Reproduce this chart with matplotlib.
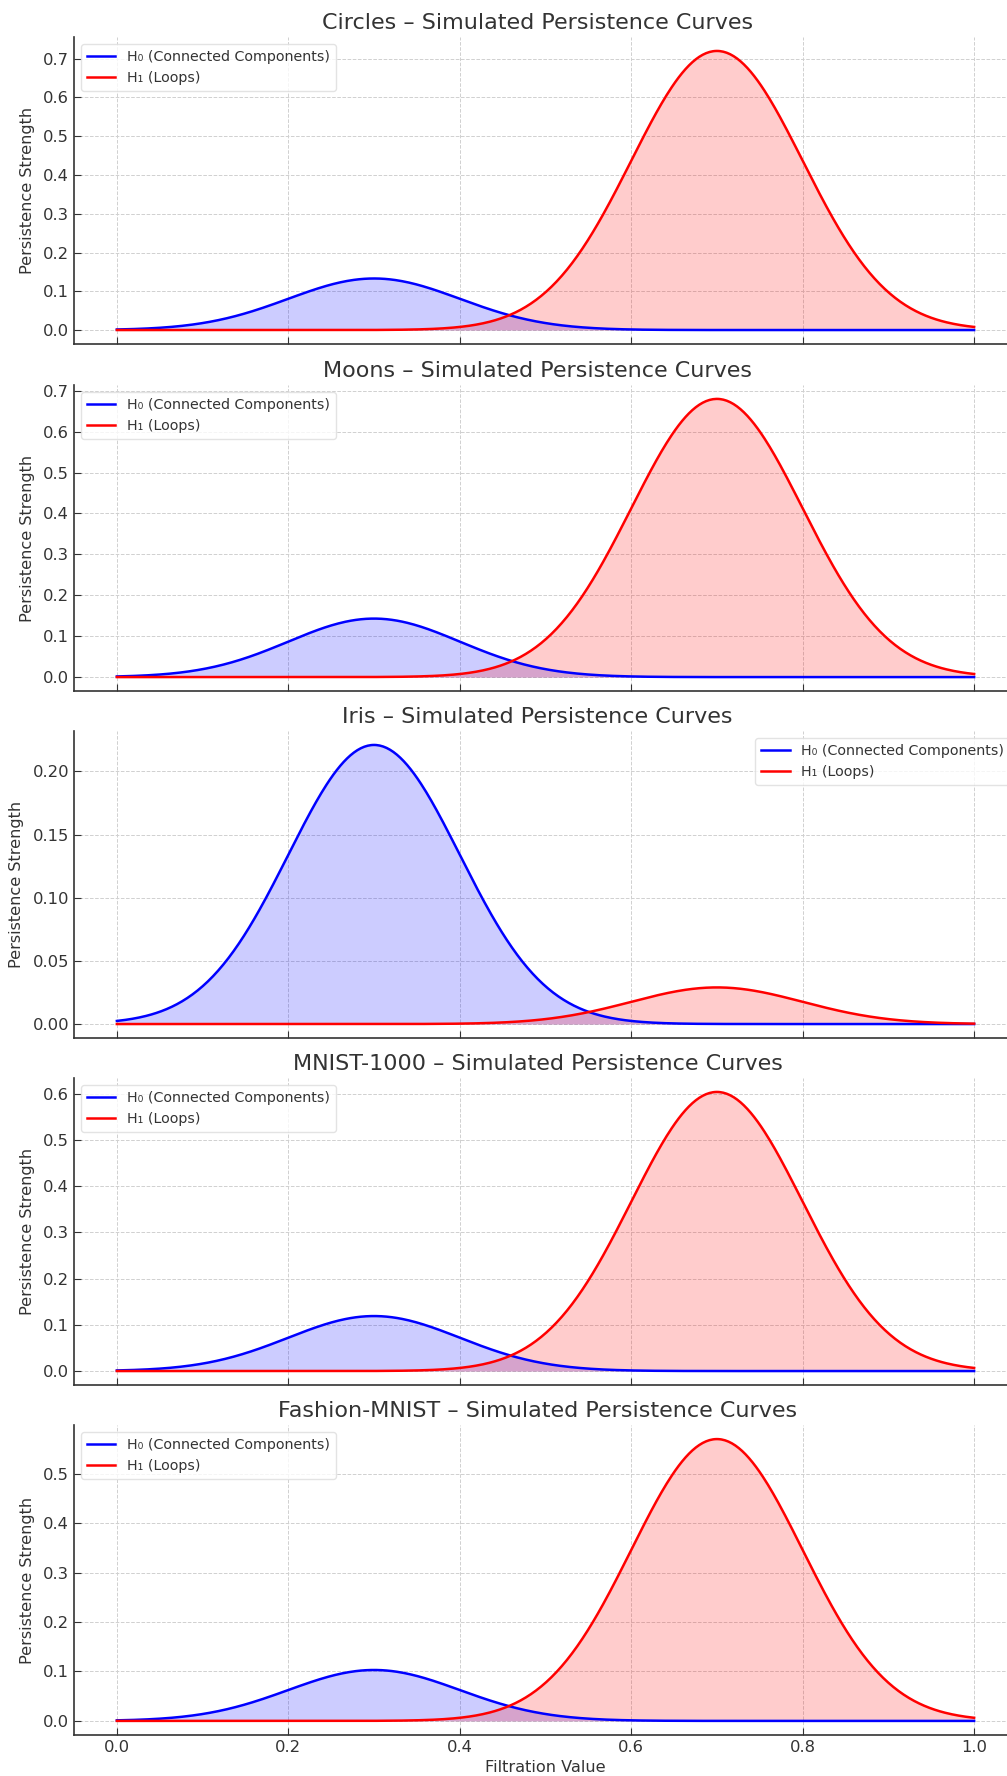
import numpy as np
import matplotlib
matplotlib.use("Agg")
import matplotlib.pyplot as plt

# Data: Gaussian-shaped simulated persistence curves
datasets = ["Circles", "Moons", "Iris", "MNIST-1000", "Fashion-MNIST"]
h0_peak = [0.133, 0.143, 0.221, 0.119, 0.103]
h1_peak = [0.720, 0.680, 0.029, 0.604, 0.570]
h0_center = [0.3, 0.3, 0.3, 0.3, 0.3]
h1_center = [0.7, 0.7, 0.7, 0.7, 0.7]
h0_width = [0.1, 0.1, 0.1, 0.1, 0.1]
h1_width = [0.1, 0.1, 0.1, 0.1, 0.1]
legend_loc = ["upper left", "upper left", "upper right", "upper left", "upper left"]
xticks = [0.0, 0.2, 0.4, 0.6, 0.8, 1.0]

plt.rcParams.update({
    "font.family": ["DejaVu Sans"],
    "text.color": "#333333",
    "axes.labelcolor": "#333333",
    "xtick.color": "#333333",
    "ytick.color": "#333333",
    "axes.edgecolor": "#333333",
    "xtick.direction": "in",
    "ytick.direction": "in",
})

fig = plt.figure(figsize=(10.07, 17.76), dpi=100)
W, H = 1007, 1776
tops = [37, 385, 731, 1078, 1425]
bots = [344, 691, 1038, 1385, 1735]
left_px, right_px = 74, 1017

x = np.linspace(0, 1, 500)
axes = []
for i, name in enumerate(datasets):
    ax = fig.add_axes([left_px / W, 1 - bots[i] / H, (right_px - left_px) / W, (bots[i] - tops[i]) / H])
    axes.append(ax)
    h0 = h0_peak[i] * np.exp(-((x - h0_center[i]) ** 2) / (2 * h0_width[i] ** 2))
    h1 = h1_peak[i] * np.exp(-((x - h1_center[i]) ** 2) / (2 * h1_width[i] ** 2))
    ax.plot(x, h0, color="blue", lw=1.8, label="H\u2080 (Connected Components)")
    ax.fill_between(x, h0, color="blue", alpha=0.2, lw=0)
    ax.plot(x, h1, color="red", lw=1.8, label="H\u2081 (Loops)")
    ax.fill_between(x, h1, color="red", alpha=0.2, lw=0)
    ax.set_title(f"{name} \u2013 Simulated Persistence Curves", fontsize=16, color="#333333", x=0.4915)
    ax.set_ylabel("Persistence Strength", fontsize=11.6, labelpad=6)
    ax.grid(True, linestyle="--", color="#d0d0d0", linewidth=0.7)
    ax.set_axisbelow(True)
    ax.spines["top"].set_visible(False)
    ax.spines["right"].set_visible(False)
    ax.spines["left"].set_linewidth(1.2)
    ax.spines["bottom"].set_linewidth(1.2)
    ax.set_xticks(xticks)
    ax.tick_params(labelsize=11.8, length=5)
    if i < len(datasets) - 1:
        ax.tick_params(labelbottom=False)
    leg = ax.legend(loc=legend_loc[i], fontsize=10.3, frameon=True, fancybox=True)
    leg.get_frame().set_edgecolor("#dddddd")

axes[-1].set_xlabel("Filtration Value", fontsize=11.6)
fig.savefig("out.png", dpi=100)
